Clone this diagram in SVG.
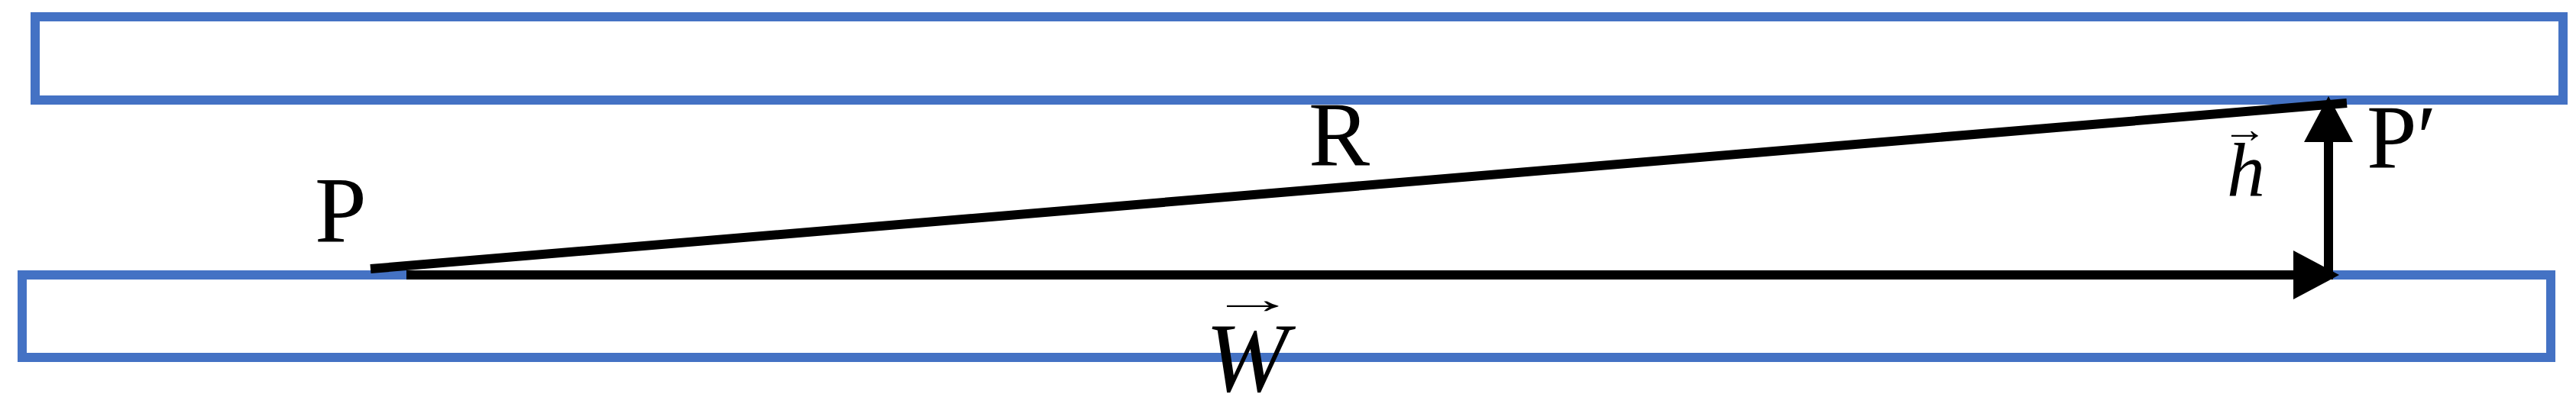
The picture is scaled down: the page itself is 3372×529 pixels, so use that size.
<svg xmlns="http://www.w3.org/2000/svg" width="3372" height="529" viewBox="0 0 3372 529">
  <style>
    .box { fill: none; stroke: #4472C4; stroke-width: 12; }
    .vec { stroke: #000; stroke-width: 12; fill: none; stroke-linecap: butt; }
    .lbl { font-family: "Liberation Serif", "Times New Roman", serif; fill: #000; }
    .it { font-style: italic; }
  </style>
  <defs>
    <marker id="head" viewBox="0 0 60 64" refX="0" refY="32" markerWidth="60" markerHeight="64" markerUnits="userSpaceOnUse" orient="auto">
      <path d="M0,0 L60,32 L0,64 Z" fill="#000"/>
    </marker>
  </defs>
  <rect width="3372" height="529" fill="#fff"/>
  <g id="top-plate">
    <rect class="box" x="46" y="22" width="3309" height="109"/>
  </g>
  <g id="bottom-plate">
    <rect class="box" x="29" y="360" width="3310" height="108"/>
  </g>
  <g id="connectors">
    <line id="R-line" class="vec" x1="485" y1="352" x2="3072" y2="135"/>
    <line id="w-vector" class="vec" x1="532" y1="360" x2="3002" y2="360" marker-end="url(#head)"/>
    <line id="h-vector" class="vec" x1="3048" y1="366" x2="3048" y2="186" marker-end="url(#head)"/>
  </g>
  <g id="labels">
    <text class="lbl" x="412" y="317" font-size="122">P</text>
    <text class="lbl" x="1713" y="217" font-size="120">R</text>
    <text class="lbl" x="3098" y="220" font-size="118">P′</text>
    <text class="lbl"><tspan x="2909" y="186" font-size="50" textLength="59" lengthAdjust="spacingAndGlyphs">→</tspan><tspan class="it" x="2915" y="256" font-size="100">h</tspan></text>
    <text class="lbl"><tspan x="1583" y="410" font-size="55" textLength="114" lengthAdjust="spacingAndGlyphs">→</tspan><tspan class="it" x="1578" y="512" font-size="130">W</tspan></text>
  </g>
</svg>
